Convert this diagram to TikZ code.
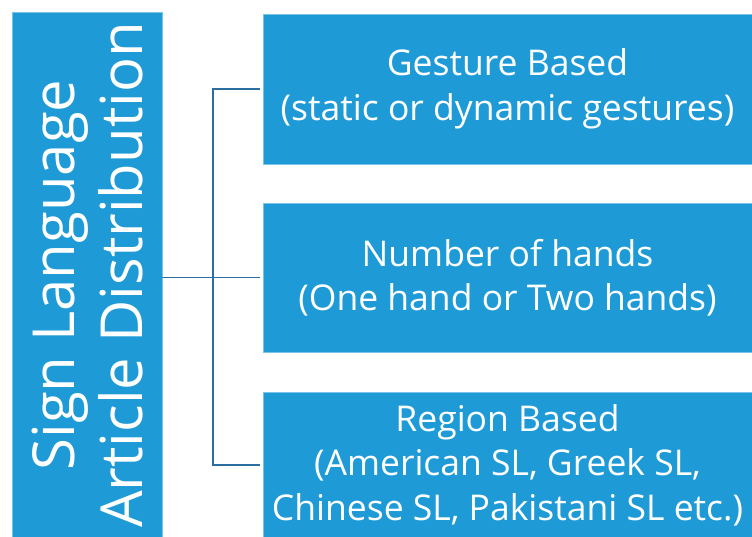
\documentclass[tikz,border=0pt]{standalone}
\usepackage{fontspec}
\setmainfont{Open Sans}
\definecolor{boxblue}{RGB}{30,155,215}
\definecolor{linkblue}{RGB}{45,110,160}
\begin{document}
\begin{tikzpicture}[x=1pt,y=-1pt,
  boxnode/.style={fill=boxblue,draw=boxblue!60!white,line width=0.6pt,inner sep=0pt,text=white,align=center},
  link/.style={draw=linkblue,line width=1.3pt},
  itemfont/.style={font=\fontsize{35.5}{44.5}\selectfont}]
\useasboundingbox (0,0) rectangle (752,537);
\node[boxnode,minimum width=150,minimum height=526] (L) at (87,275) {};
\node[text=white,align=center,rotate=90,inner sep=0pt,font=\fontsize{58}{68}\selectfont] (LT) at (L.center) {Sign Language\\Article Distribution};
\node[boxnode,minimum width=489,minimum height=150,itemfont] (G) at (507.5,89) {Gesture Based\\(static or dynamic gestures)};
\node[boxnode,minimum width=489,minimum height=149,itemfont] (N) at (507.5,277.5) {Number of hands\\(One hand or Two hands)};
\node[boxnode,minimum width=489,minimum height=146,itemfont] (R) at (507.5,465) {Region Based\\(American SL, Greek SL,\\Chinese SL, Pakistani SL etc.)};
\coordinate (J) at (213,277.5);
\draw[link,shorten >=3pt] (L.east |- N.west) -- (N.west);
\draw[link,shorten >=3pt] (J) |- (G.west);
\draw[link,shorten >=3pt] (J) |- (R.west);
\end{tikzpicture}
\end{document}
